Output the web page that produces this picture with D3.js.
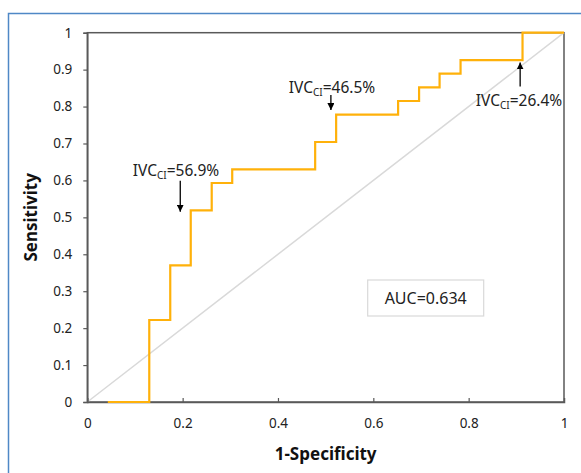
<!DOCTYPE html>
<html>
<head>
<meta charset="utf-8">
<script src="https://cdn.jsdelivr.net/npm/d3@7"></script>
<style>
  body { margin: 0; background: #fff; }
  svg { display: block; font-family: "Noto Sans", "Open Sans", sans-serif; }
</style>
</head>
<body>
<svg id="roc" width="581" height="473"></svg>
<script>
// ROC curve corner points (1-specificity, sensitivity)
const fpr = [0.043, 0.130, 0.174, 0.217, 0.261, 0.304, 0.478, 0.522, 0.652, 0.696, 0.739, 0.783, 0.913, 1.0];
const tpr = [0.000, 0.222, 0.370, 0.519, 0.593, 0.630, 0.704, 0.778, 0.815, 0.852, 0.889, 0.926, 1.000, 1.0];

const xTicks = [0, 0.2, 0.4, 0.6, 0.8, 1];
const yTicks = [0, 0.1, 0.2, 0.3, 0.4, 0.5, 0.6, 0.7, 0.8, 0.9, 1];

// cut-off annotations: label, point on curve, arrow direction
const cutLabels = ["56.9%", "46.5%", "26.4%"];
const cutX = [0.195, 0.511, 0.908];
const cutY = [0.51, 0.785, 0.925];
const cutDir = ["down", "down", "up"];

const aucText = "AUC=0.634";

let svg = d3.select("#roc");

let canvas = {
  "width": 581,
  "height": 473,
  "marginLeft": 87.3,
  "marginRight": 17,
  "marginTop": 32.7,
  "marginBottom": 71
};

// outer blue frame
svg.append("rect")
  .attr("x", 8.5)
  .attr("y", 13.5)
  .attr("width", 600)
  .attr("height", 500)
  .attr("fill", "none")
  .attr("stroke", "#4f88c6")
  .attr("stroke-width", 1.5);

let xScale = d3.scaleLinear()
  .domain([0, 1])
  .range([canvas.marginLeft, canvas.width - canvas.marginRight]);

let yScale = d3.scaleLinear()
  .domain([0, 1])
  .range([canvas.height - canvas.marginBottom, canvas.marginTop]);

// plot frame (top + right)
svg.append("rect")
  .attr("x", xScale(0))
  .attr("y", yScale(1))
  .attr("width", xScale(1) - xScale(0))
  .attr("height", yScale(0) - yScale(1))
  .attr("fill", "none")
  .attr("stroke", "#595959")
  .attr("stroke-width", 1.5);

// reference diagonal
svg.append("line")
  .attr("x1", xScale(0))
  .attr("y1", yScale(0))
  .attr("x2", xScale(1))
  .attr("y2", yScale(1))
  .attr("stroke", "#d9d9d9")
  .attr("stroke-width", 1.5);

let fmt = d => d === 0 || d === 1 ? d3.format("d")(d) : d3.format(".1f")(d);

// Y axis
let gy = svg.append("g")
  .attr("transform", `translate(${xScale(0)}, 0)`)
  .call(d3.axisLeft(yScale).tickValues(yTicks).tickSize(4).tickPadding(11).tickFormat(fmt));

// X axis (ticks point inward)
let gx = svg.append("g")
  .attr("transform", `translate(0, ${yScale(0)})`)
  .call(d3.axisBottom(xScale).tickValues(xTicks).tickSize(-4).tickPadding(16).tickFormat(fmt));

[gx, gy].forEach(g => {
  g.select(".domain").attr("stroke", "#595959").attr("stroke-width", 1.5);
  g.selectAll(".tick line").attr("stroke", "#595959").attr("stroke-width", 1.2);
  g.selectAll(".tick text").attr("fill", "#222").attr("font-size", "13.5px")
    .attr("font-family", "'Noto Sans', sans-serif");
});
gx.selectAll(".tick").filter(d => d === 0 || d === 1).select("line").remove();

// ROC step line
let rocData = fpr.map((x, i) => ({x: x, y: tpr[i]}));
let line = d3.line()
  .x(d => xScale(d.x))
  .y(d => yScale(d.y))
  .curve(d3.curveStepAfter);

svg.append("path")
  .datum(rocData)
  .attr("d", line)
  .attr("fill", "none")
  .attr("stroke", "#ffb10a")
  .attr("stroke-width", 2.2);

// axis titles
svg.append("text")
  .attr("x", (xScale(0) + xScale(1)) / 2)
  .attr("y", 460)
  .attr("text-anchor", "middle")
  .attr("font-weight", "bold")
  .attr("font-size", "17px")
  .attr("fill", "#111")
  .text("1-Specificity");

svg.append("text")
  .attr("transform", `translate(37, ${(yScale(0) + yScale(1)) / 2}) rotate(-90)`)
  .attr("text-anchor", "middle")
  .attr("font-weight", "bold")
  .attr("font-size", "17px")
  .attr("fill", "#111")
  .text("Sensitivity");

// arrow head marker
svg.append("defs").append("marker")
  .attr("id", "head")
  .attr("viewBox", "0 0 10 10")
  .attr("refX", 10)
  .attr("refY", 5)
  .attr("markerWidth", 7)
  .attr("markerHeight", 7)
  .attr("markerUnits", "userSpaceOnUse")
  .attr("orient", "auto")
  .append("path")
  .attr("d", "M0,0 L10,5 L0,10 z")
  .attr("fill", "#000");

// cut-off annotations
let textY = [175.5, 93, 105.5];
let arrowLen = [31, 15, 24];
let textX = [176, 332, 519];

cutLabels.forEach((lab, i) => {
  let ax = xScale(cutX[i]);
  let ay = yScale(cutY[i]);
  let x1, y1, x2, y2;
  if (cutDir[i] === "down") {
    x1 = ax; y1 = ay - arrowLen[i] - 2; x2 = ax; y2 = ay - 2;
  } else {
    x1 = ax; y1 = ay + arrowLen[i] + 2; x2 = ax; y2 = ay + 2;
  }
  svg.append("line")
    .attr("x1", x1).attr("y1", y1)
    .attr("x2", x2).attr("y2", y2)
    .attr("stroke", "#000")
    .attr("stroke-width", 1.3)
    .attr("marker-end", "url(#head)");

  let t = svg.append("text")
    .attr("x", textX[i])
    .attr("y", textY[i])
    .attr("text-anchor", "middle")
    .attr("font-size", "15.5px")
    .attr("fill", "#222");
  t.append("tspan").text("IVC");
  t.append("tspan").attr("font-size", "10px").attr("dy", 3).text("CI");
  t.append("tspan").attr("dy", -3).text("=" + lab);
});

// AUC box
let aucBox = svg.append("g");
aucBox.append("rect")
  .attr("x", 367.7)
  .attr("y", 280)
  .attr("width", 116)
  .attr("height", 36)
  .attr("fill", "#fff")
  .attr("stroke", "#d9d9d9")
  .attr("stroke-width", 1.2);
aucBox.append("text")
  .attr("x", 425.7)
  .attr("y", 304)
  .attr("text-anchor", "middle")
  .attr("font-size", "16px")
  .attr("fill", "#222")
  .text(aucText);
</script>
</body>
</html>
